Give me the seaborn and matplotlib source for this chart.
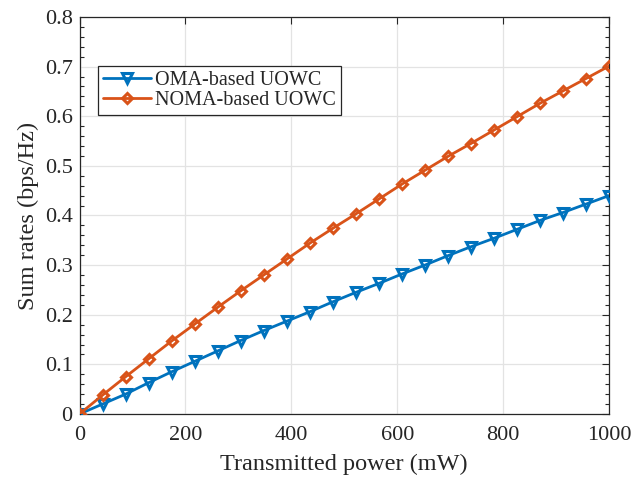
import numpy as np
import pandas as pd
import matplotlib
matplotlib.use("Agg")
import matplotlib.pyplot as plt
from matplotlib.ticker import MultipleLocator
import seaborn as sns

# Transmitted power samples (mW)
power_mw = [0, 43.5, 87.0, 130.4, 173.9, 217.4, 260.9, 304.3, 347.8, 391.3,
            434.8, 478.3, 521.7, 565.2, 608.7, 652.2, 695.7, 739.1, 782.6,
            826.1, 869.6, 913.0, 956.5, 1000]

# Sum rates (bps/Hz)
oma_rate = [0, 0.020, 0.040, 0.063, 0.085, 0.106, 0.127, 0.148, 0.168, 0.187,
            0.206, 0.226, 0.245, 0.263, 0.282, 0.300, 0.319, 0.337, 0.354,
            0.372, 0.390, 0.406, 0.423, 0.440]
noma_rate = [0, 0.038, 0.075, 0.111, 0.147, 0.181, 0.215, 0.248, 0.280, 0.312,
             0.344, 0.374, 0.403, 0.433, 0.463, 0.491, 0.519, 0.545, 0.572,
             0.599, 0.626, 0.651, 0.676, 0.701]

series_names = ["OMA-based UOWC", "NOMA-based UOWC"]
series_colors = ["#0072BD", "#D95319"]
series_markers = ["v", "D"]

x_ticks = [0, 200, 400, 600, 800, 1000]
y_ticks = [0, 0.1, 0.2, 0.3, 0.4, 0.5, 0.6, 0.7, 0.8]
y_tick_labels = ["0", "0.1", "0.2", "0.3", "0.4", "0.5", "0.6", "0.7", "0.8"]

sns.set_style("whitegrid")
plt.rcParams["font.family"] = ["Liberation Serif", "DejaVu Serif"]

df = pd.DataFrame({
    "power": power_mw * 2,
    "rate": oma_rate + noma_rate,
    "scheme": [series_names[0]] * len(power_mw) + [series_names[1]] * len(power_mw),
})

W, H = 631, 479
left, right, top, bottom = 79.5, 609.0, 17.0, 414.0
fig = plt.figure(figsize=(W / 100, H / 100), dpi=100)
ax = fig.add_axes([left / W, 1 - bottom / H, (right - left) / W, (bottom - top) / H])

for name, color, marker, msize in zip(series_names, series_colors, series_markers, [7.8, 5.5]):
    sub = df[df["scheme"] == name]
    sns.lineplot(data=sub, x="power", y="rate", ax=ax, color=color, linewidth=2,
                 marker=marker, markersize=msize, markerfacecolor="none",
                 markeredgecolor=color, markeredgewidth=2.2, label=name,
                 zorder=3)

ax.set_xlim(0, 1000)
ax.set_ylim(0, 0.8)
ax.set_xticks(x_ticks)
ax.set_yticks(y_ticks)
ax.set_yticklabels(y_tick_labels)
ax.yaxis.set_minor_locator(MultipleLocator(0.02))

ax.grid(True, which="major", color="#e3e3e3", linewidth=0.9)
ax.grid(False, which="minor")
for side in ["left", "bottom", "right", "top"]:
    ax.spines[side].set_visible(True)
    ax.spines[side].set_color("#262626")
    ax.spines[side].set_linewidth(0.9)

ax.tick_params(axis="both", which="major", direction="in", length=5, width=0.8,
               top=True, right=True, labelsize=16, colors="#262626")
ax.tick_params(axis="x", which="major", pad=9)
ax.tick_params(axis="y", which="major", pad=5)
ax.tick_params(axis="y", which="minor", direction="in", length=3, width=0.8,
               left=True, right=True, colors="#262626")
ax.tick_params(axis="x", which="minor", bottom=False, top=False)

ax.set_xlabel("Transmitted power (mW)", fontsize=17.5, color="#262626", labelpad=6)
ax.set_ylabel("Sum rates (bps/Hz)", fontsize=17.5, color="#262626", labelpad=4)

leg = ax.legend(loc="upper left", bbox_to_anchor=(0.035, 0.877), borderaxespad=0,
                fontsize=14.5, frameon=True, fancybox=False, handlelength=2.4,
                handletextpad=0.2, borderpad=0.25, labelspacing=0.05)
leg.get_frame().set_edgecolor("#262626")
leg.get_frame().set_linewidth(0.9)
leg.get_frame().set_alpha(1)

fig.savefig("out.png", dpi=100)
